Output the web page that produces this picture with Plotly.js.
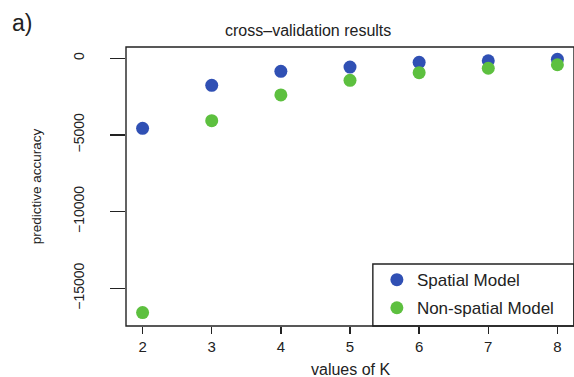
<!DOCTYPE html>
<html>
<head>
<meta charset="utf-8">
<script src="https://cdn.plot.ly/plotly-3.0.1.min.js"></script>
<style>html,body{margin:0;padding:0;background:#fff;}#chart{width:574px;height:377px;}</style>
</head>
<body>
<div id="chart"></div>
<script>
const kValues = [2, 3, 4, 5, 6, 7, 8];
const spatialModel = [-4570, -1760, -850, -570, -260, -160, -65];
const nonSpatialModel = [-16590, -4070, -2390, -1435, -940, -650, -420];
const yTickValues = [0, -5000, -10000, -15000];
const yTickText = ['0', '\u22125000', '\u221210000', '\u221215000'];
const seriesNames = ['Spatial Model', 'Non-spatial Model'];

const fontFam = 'Liberation Sans, Arial, Helvetica, sans-serif';
const textCol = '#222222';
const lineCol = '#222222';

const traces = [
  {x: kValues, y: spatialModel, name: seriesNames[0], legendgroup: 'g1', type: 'scatter', mode: 'markers',
   marker: {color: '#3050B4', size: 13}},
  {x: kValues, y: nonSpatialModel, name: seriesNames[1], legendgroup: 'g2', type: 'scatter', mode: 'markers',
   marker: {color: '#5DC03F', size: 13}}
];

const layout = {
  width: 574, height: 377,
  margin: {l: 126, r: 0, t: 47, b: 51},
  paper_bgcolor: '#ffffff', plot_bgcolor: '#ffffff',
  font: {family: fontFam, color: textCol, size: 13},
  showlegend: true,
  legend: {x: 0.560, xanchor: 'left', y: 0.229, yanchor: 'top', bgcolor: 'rgba(0,0,0,0)',
           borderwidth: 0, font: {size: 17, color: textCol},
           itemwidth: 30, tracegroupgap: 3},
  xaxis: {range: [1.76, 8.24], tickvals: kValues, ticktext: kValues.map(String),
          showgrid: false, zeroline: false, showline: false,
          ticks: 'outside', ticklen: 7, tickcolor: lineCol, tickwidth: 1.3,
          tickfont: {size: 15, color: textCol}},
  yaxis: {range: [-17463, 737], tickvals: yTickValues, ticktext: yTickText,
          showgrid: false, zeroline: false, showline: false,
          ticks: 'outside', ticklen: 15, tickcolor: lineCol, tickwidth: 1.3,
          tickangle: -90, ticklabelstandoff: 20,
          tickfont: {size: 14, color: textCol}},
  shapes: [
    {type: 'rect', xref: 'paper', yref: 'paper', x0: 0.551, x1: 1, y0: 0, y1: 0.222,
     line: {color: lineCol, width: 1.4}, fillcolor: '#ffffff', layer: 'below'},
    {type: 'rect', xref: 'paper', yref: 'paper', x0: 0, x1: 1, y0: 0, y1: 1,
     line: {color: lineCol, width: 1.4}, fillcolor: 'rgba(0,0,0,0)', layer: 'above'}
  ],
  annotations: [
    {text: 'cross\u2013validation results', xref: 'paper', yref: 'paper', x: 0.406, y: 1, yshift: 17,
     xanchor: 'center', yanchor: 'middle', showarrow: false, font: {size: 16, color: textCol}},
    {text: 'values of K', xref: 'paper', yref: 'paper', x: 0.5, y: 0, yshift: -43,
     xanchor: 'center', yanchor: 'middle', showarrow: false, font: {size: 16, color: textCol}},
    {text: 'predictive accuracy', xref: 'paper', yref: 'paper', x: -0.199, y: 0.5, textangle: -90,
     xanchor: 'center', yanchor: 'middle', showarrow: false, font: {size: 13.5, color: textCol}},
    {text: 'a)', xref: 'paper', yref: 'paper', x: -0.259, y: 1, yshift: 24,
     xanchor: 'left', yanchor: 'middle', showarrow: false, font: {size: 23, color: textCol}}
  ]
};

Plotly.newPlot('chart', traces, layout, {staticPlot: true, displayModeBar: false});
</script>
</body>
</html>
